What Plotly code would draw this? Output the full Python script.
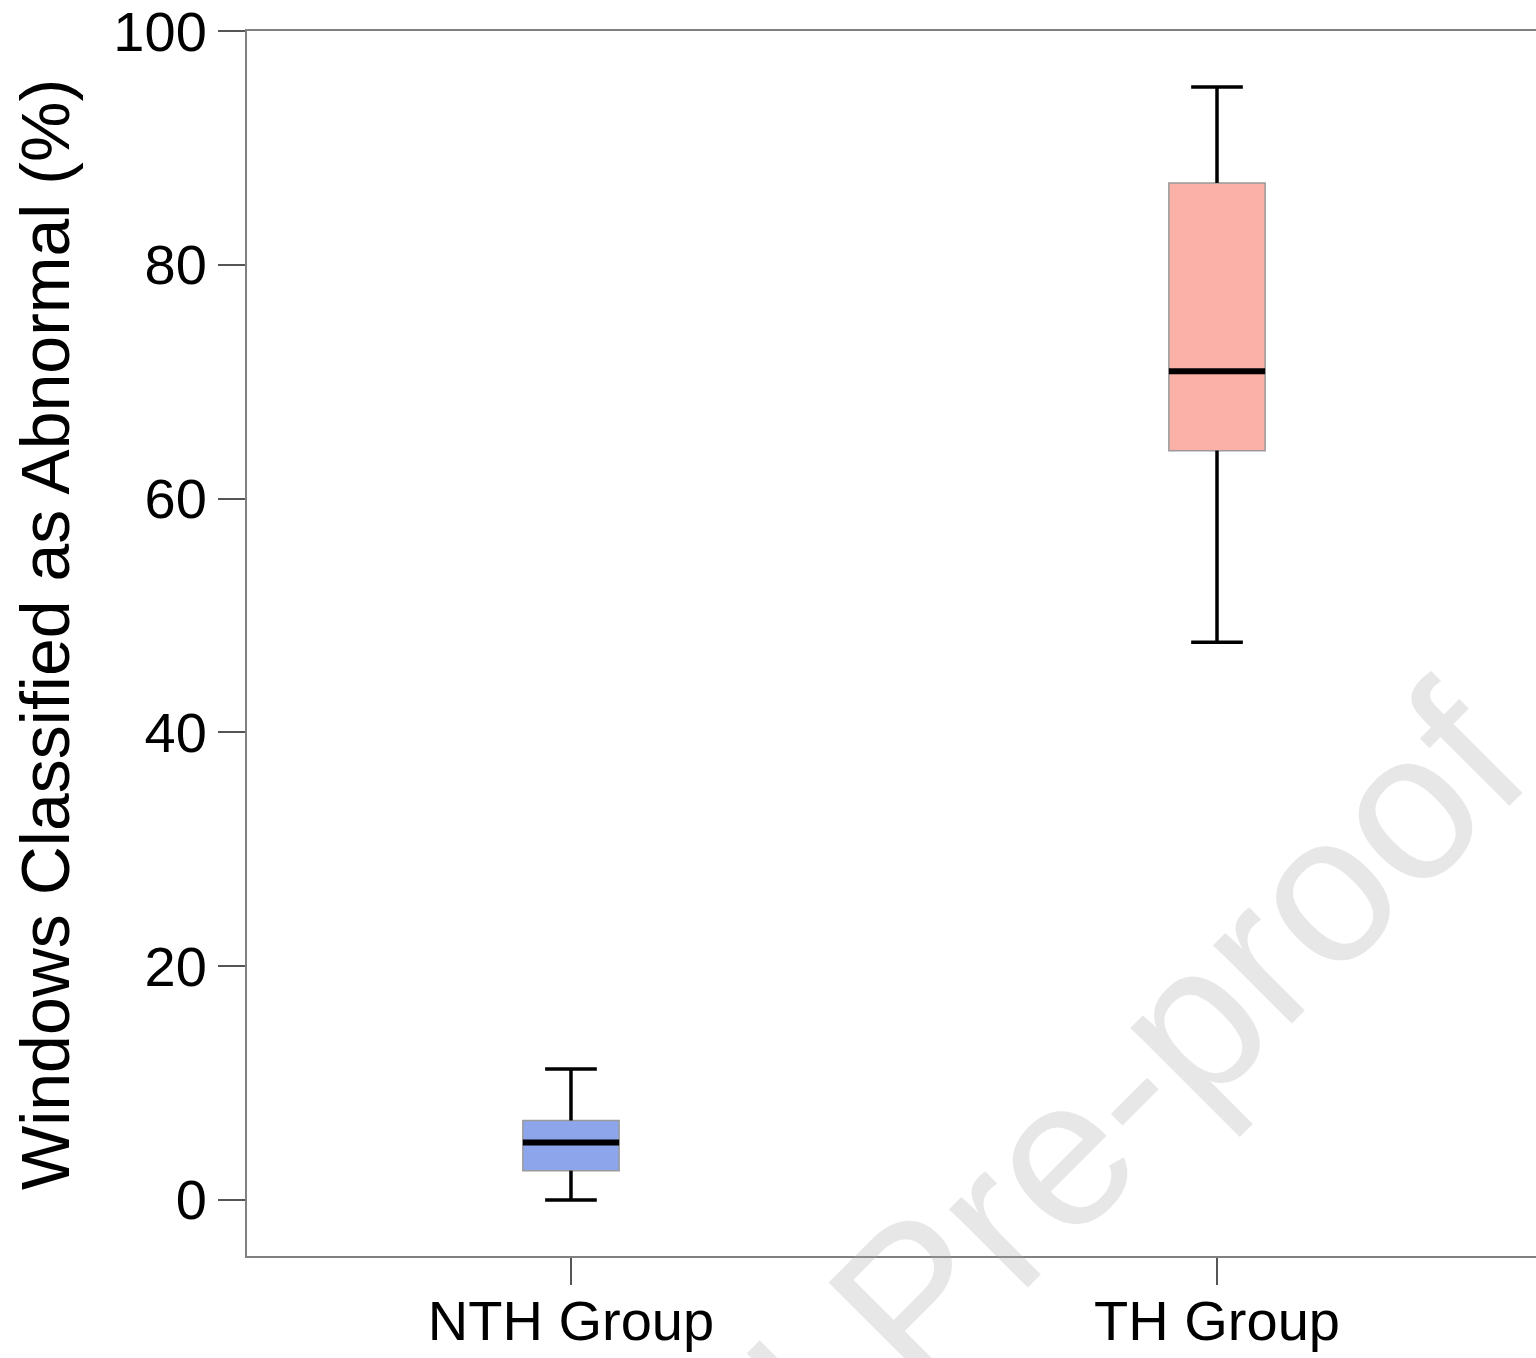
import plotly.graph_objects as go

# ---- data ----
groups = ["NTH Group", "TH Group"]
lower_whisker = [0.0, 47.7]
q1_vals = [2.5, 64.1]
median_vals = [4.9, 70.9]
q3_vals = [6.8, 87.0]
upper_whisker = [11.2, 95.2]
fill_colors = ["#8DA5EA", "#FBB0A8"]

y_ticks = [0, 20, 40, 60, 80, 100]

BOX_W = 0.149
CAP_W = 0.080

positions = list(range(len(groups)))

fig = go.Figure()

for i, g in enumerate(groups):
    p = positions[i]
    fig.add_trace(go.Box(
        x=[p], q1=[q1_vals[i]], median=[median_vals[i]], q3=[q3_vals[i]],
        lowerfence=[q1_vals[i]], upperfence=[q3_vals[i]],
        width=BOX_W, whiskerwidth=0,
        fillcolor=fill_colors[i],
        line=dict(color="#9a9a9a", width=1.5),
        boxpoints=False, showlegend=False, hoverinfo="skip", name=g,
    ))
    # whiskers + caps
    xs = [p, p, None, p, p, None,
          p - CAP_W / 2, p + CAP_W / 2, None,
          p - CAP_W / 2, p + CAP_W / 2]
    ys = [lower_whisker[i], q1_vals[i], None, q3_vals[i], upper_whisker[i], None,
          lower_whisker[i], lower_whisker[i], None,
          upper_whisker[i], upper_whisker[i]]
    fig.add_trace(go.Scatter(x=xs, y=ys, mode="lines",
                             line=dict(color="black", width=3.5),
                             showlegend=False, hoverinfo="skip"))
    # median
    fig.add_trace(go.Scatter(x=[p - BOX_W / 2, p + BOX_W / 2],
                             y=[median_vals[i], median_vals[i]], mode="lines",
                             line=dict(color="black", width=6),
                             showlegend=False, hoverinfo="skip"))

font_family = "Liberation Sans, Arial, sans-serif"

fig.update_layout(
    width=1536, height=1358,
    margin=dict(l=247, r=0, t=31, b=102, autoexpand=False),
    paper_bgcolor="white", plot_bgcolor="white",
    font=dict(family=font_family, color="black"),
    showlegend=False,
)

fig.update_xaxes(
    range=[-0.5015, 1.4938],
    tickmode="array", tickvals=positions, ticktext=groups,
    showgrid=False, zeroline=False,
    showline=True, linecolor="#808080", linewidth=2, mirror=True,
    ticks="outside", ticklen=27, tickwidth=2, tickcolor="#555555",
    ticklabelstandoff=-12, ticklabeloverflow="allow",
    tickfont=dict(size=56, family=font_family, color="black"),
)

fig.update_yaxes(
    range=[-4.8, 100],
    tickmode="array", tickvals=y_ticks, ticktext=[str(v) for v in y_ticks],
    showgrid=False, zeroline=False,
    showline=True, linecolor="#808080", linewidth=2, mirror=False,
    ticks="outside", ticklen=27, tickwidth=2, tickcolor="#555555",
    ticklabeloverflow="allow",
    tickfont=dict(size=56, family=font_family, color="black"),
)

# y axis title
fig.add_annotation(
    text="Windows Classified as Abnormal (%)",
    xref="paper", yref="paper", x=(45 - 247) / 1289, y=(1256 - 635) / 1225,
    xanchor="center", yanchor="middle", textangle=-90, showarrow=False,
    font=dict(size=68, family=font_family, color="black"),
)

# watermark
fig.add_annotation(
    text="Journal Pre-proof",
    xref="paper", yref="paper", x=(912 - 247) / 1289, y=(1256 - 1300) / 1225,
    xanchor="center", yanchor="middle", textangle=-45, showarrow=False,
    font=dict(size=210, family=font_family, color="rgba(170,170,170,0.28)"),
)

fig.write_html("out.html")
